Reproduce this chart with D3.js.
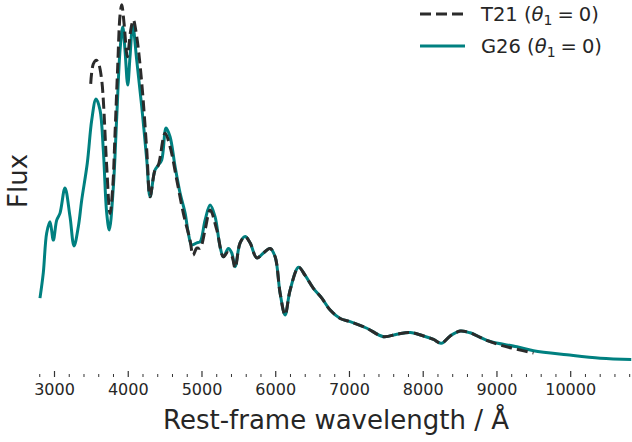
<!DOCTYPE html>
<html lang="en">
<head>
    <meta charset="UTF-8">
    <script src="https://d3js.org/d3.v7.min.js"></script>
    <style>
        body {
            margin: 0;
            background: #fff;
            font-family: "DejaVu Sans", sans-serif;
        }
        text {
            fill: #262626;
        }
    </style>
</head>
<body>
    <div id="chart"></div>
    <script>
        // G26 (theta1 = 0)
        const g26Wave = [2803, 2848, 2894, 2939, 2984, 3030, 3075, 3142, 3210, 3265, 3323, 3369,
            3445, 3505, 3563, 3617, 3662, 3708, 3743, 3798, 3844, 3889, 3925, 3956, 3993, 4024,
            4061, 4115, 4183, 4251, 4296, 4363, 4408, 4454, 4513, 4567, 4635, 4703, 4771, 4815,
            4861, 4929, 4974, 5042, 5110, 5177, 5245, 5290, 5358, 5404, 5449, 5517, 5585, 5652,
            5743, 5833, 5924, 5992, 6059, 6127, 6195, 6310, 6399, 6511, 6625, 6738, 6874, 7009,
            7236, 7461, 7643, 7823, 8004, 8139, 8244, 8366, 8501, 8637, 8773, 8909, 9271, 9496,
            9949, 10401, 10821];
        const g26Flux = [21.1, 28.3, 39.7, 42.9, 37.7, 43.4, 45.4, 52.6, 44.4, 36.0, 41.5, 49.1,
            59.7, 72.0, 78.0, 74.9, 63.4, 45.4, 40.6, 52.9, 72.9, 92.0, 98.6, 92.0, 82.0, 90.1,
            99.1, 89.1, 75.8, 60.6, 50.1, 57.7, 59.1, 60.6, 69.7, 67.2, 58.7, 51.1, 45.4, 39.7,
            36.3, 36.9, 37.2, 43.4, 47.7, 44.4, 35.8, 32.9, 35.3, 34.0, 30.1, 36.9, 38.7, 36.9,
            32.6, 34.0, 35.3, 32.9, 22.6, 16.3, 23.4, 29.9, 27.6, 23.9, 21.1, 17.7, 15.3, 14.4,
            12.5, 10.1, 10.8, 11.3, 10.3, 9.3, 8.2, 10.3, 11.7, 11.2, 9.9, 8.7, 7.2, 6.1,
            4.9, 3.9, 3.6];

        // T21 (theta1 = 0)
        const t21Wave = [3491, 3526, 3567, 3604, 3640, 3662, 3708, 3753, 3790, 3821, 3857, 3889,
            3912, 3943, 3988, 4034, 4069, 4115, 4183, 4251, 4296, 4363, 4408, 4499, 4567, 4658,
            4747, 4838, 4879, 4929, 4974, 5042, 5110, 5201, 5290, 5344, 5404, 5449, 5517, 5585,
            5652, 5743, 5833, 5924, 5992, 6059, 6127, 6195, 6310, 6399, 6511, 6625, 6738, 6874,
            7009, 7236, 7461, 7643, 7823, 8004, 8139, 8244, 8366, 8501, 8637, 8773, 8880, 9044,
            9271, 9496];
        const t21Flux = [82.3, 88.0, 89.1, 87.7, 83.4, 77.7, 58.7, 45.3, 52.9, 68.2, 87.2, 102.0,
            104.9, 99.7, 90.1, 97.7, 100.6, 95.8, 82.6, 63.4, 50.1, 57.7, 59.1, 68.2, 64.4, 54.9,
            45.4, 37.7, 33.4, 35.4, 35.4, 40.6, 46.3, 40.6, 32.9, 34.1, 33.1, 29.7, 36.9, 38.7,
            36.9, 32.6, 34.0, 35.3, 32.9, 22.6, 16.3, 23.4, 29.9, 27.6, 23.9, 21.1, 17.7, 15.3,
            14.4, 12.5, 10.1, 10.8, 11.3, 10.3, 9.3, 8.2, 10.3, 11.7, 11.2, 9.9, 8.9, 7.7,
            6.5, 5.4];

        const majorTicks = [3000, 4000, 5000, 6000, 7000, 8000, 9000, 10000];
        const minorTicks = d3.range(2800, 10801, 200).filter(v => v % 1000 !== 0);

        const width = 632, height = 442;

        const x = d3.scaleLinear()
            .domain([3000, 10000])
            .range([54.5, 570.7]);

        const y = d3.scaleLinear()
            .domain([0, 100])
            .range([372, 22]);

        const svg = d3.select("#chart").append("svg")
            .attr("width", width)
            .attr("height", height);

        const line = d3.line()
            .x(d => x(d[0]))
            .y(d => y(d[1]))
            .curve(d3.curveCatmullRom.alpha(0.5));

        svg.append("path")
            .datum(d3.zip(g26Wave, g26Flux))
            .attr("d", line)
            .attr("fill", "none")
            .attr("stroke", "#008080")
            .attr("stroke-width", 3)
            .attr("stroke-linejoin", "round");

        svg.append("path")
            .datum(d3.zip(t21Wave, t21Flux))
            .attr("d", line)
            .attr("fill", "none")
            .attr("stroke", "#2b2b2b")
            .attr("stroke-width", 3)
            .attr("stroke-dasharray", "11,5");

        // x axis: no spine, ticks only
        const axis = svg.append("g");
        axis.selectAll(".minor")
            .data(minorTicks)
            .enter().append("line")
            .attr("x1", d => x(d)).attr("x2", d => x(d))
            .attr("y1", 374).attr("y2", 377)
            .attr("stroke", "#333").attr("stroke-width", 1);
        axis.selectAll(".major")
            .data(majorTicks)
            .enter().append("line")
            .attr("x1", d => x(d)).attr("x2", d => x(d))
            .attr("y1", 371).attr("y2", 377)
            .attr("stroke", "#333").attr("stroke-width", 1.2);
        axis.selectAll(".lab")
            .data(majorTicks)
            .enter().append("text")
            .attr("x", d => x(d))
            .attr("y", 395)
            .attr("text-anchor", "middle")
            .style("font-size", "16px")
            .text(d => d);

        svg.append("text")
            .attr("x", 336)
            .attr("y", 429)
            .attr("text-anchor", "middle")
            .style("font-size", "26px")
            .text("Rest-frame wavelength / Å");

        svg.append("text")
            .attr("transform", "translate(27,181) rotate(-90)")
            .attr("text-anchor", "middle")
            .style("font-size", "26px")
            .text("Flux");

        // legend
        const legend = [
            { name: "T21", color: "#2b2b2b", dash: "11,5", y: 14 },
            { name: "G26", color: "#008080", dash: null, y: 46 }
        ];
        legend.forEach(l => {
            svg.append("line")
                .attr("x1", 420).attr("x2", 465)
                .attr("y1", l.y).attr("y2", l.y)
                .attr("stroke", l.color)
                .attr("stroke-width", 3)
                .attr("stroke-dasharray", l.dash);
            const t = svg.append("text")
                .attr("x", 481)
                .attr("y", l.y + 7)
                .style("font-size", "19.5px");
            t.append("tspan").text(l.name + " (");
            t.append("tspan").style("font-style", "italic").text("θ");
            t.append("tspan").attr("dy", 4).style("font-size", "14px").text("1");
            t.append("tspan").attr("dy", -4).attr("dx", 5).text("=");
            t.append("tspan").attr("dx", 5).text("0)");
        });
    </script>
</body>
</html>
